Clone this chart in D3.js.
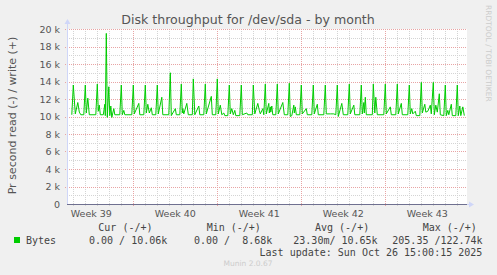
<!DOCTYPE html>
<meta charset="utf-8">
<script src="https://d3js.org/d3.v7.min.js"></script>
<style>
  body { margin: 0; background: #f0f0f0; }
  text { font-family: "DejaVu Sans", sans-serif; }
  .mono { font-family: "DejaVu Sans Mono", monospace; white-space: pre; }
</style>
<div id="chart"></div>
<script>

// hours after Mon 22 Sep 2025 00:00 (UTC) and the write rate in bytes/s at that moment
var hours = [35, 45, 48, 52, 57, 60, 63, 69, 72, 74, 77, 80, 93, 96, 98, 100, 102, 108, 111, 112,
  114, 116, 119, 121, 123, 125, 129, 131, 141, 144, 146, 149, 151, 165, 168, 170, 179, 181, 189, 192,
  194, 197, 200, 204, 206, 213, 216, 218, 225, 227, 239, 242, 244, 252, 254, 261, 264, 266, 267, 269,
  275, 278, 286, 288, 291, 299, 301, 309, 312, 314, 324, 326, 333, 336, 338, 342, 345, 349, 351, 357,
  360, 362, 365, 368, 371, 373, 381, 384, 386, 395, 397, 406, 408, 411, 417, 420, 422, 427, 429, 432,
  434, 439, 440, 442, 443, 445, 447, 453, 456, 458, 467, 470, 477, 480, 482, 485, 489, 490, 492, 494,
  501, 504, 506, 514, 516, 525, 528, 530, 536, 538, 549, 552, 554, 562, 569, 573, 576, 578, 585, 588,
  597, 600, 602, 609, 611, 621, 624, 626, 629, 630, 632, 634, 646, 648, 651, 653, 656, 669, 672, 674,
  682, 684, 693, 696, 698, 704, 706, 717, 720, 722, 725, 727, 732, 734, 741, 744, 746, 751, 753, 757,
  762, 764, 768, 770, 773, 776, 780, 782, 789, 792, 794, 797, 799, 804, 806, 813, 816, 818, 821, 823,
  827, 830, 836];
var writes = [10300, 10200, 13600, 10300, 11600, 10500, 10200, 10200, 13600, 10400, 12100, 10200, 10200, 13700, 10600, 11300, 10200, 10200, 11400, 10100,
  19500, 9900, 13400, 10100, 11200, 9900, 10900, 10200, 10200, 13600, 10200, 10700, 10200, 10200, 13600, 10300, 11500, 10200, 10200, 13600,
  10400, 11400, 10400, 11000, 10200, 10200, 13600, 10300, 12200, 10200, 10200, 15000, 10100, 10900, 10200, 10200, 13700, 10400, 10900, 10300,
  11500, 10200, 10200, 14300, 10200, 11200, 10200, 10200, 13700, 10300, 12300, 10200, 10200, 14300, 10300, 11300, 10200, 10400, 10100, 10100,
  13600, 10300, 10900, 10200, 10700, 10100, 10100, 13600, 10200, 10400, 10200, 10200, 13600, 10300, 11500, 10700, 10300, 10900, 10200, 13700,
  10300, 11500, 10400, 11100, 10500, 11200, 10200, 10200, 13700, 10300, 11600, 10200, 10200, 13800, 10000, 10100, 11300, 10400, 11100, 10200,
  10200, 13600, 10300, 10900, 10200, 10200, 13600, 10300, 11400, 10200, 10200, 13600, 10300, 10300, 10300, 10200, 13600, 10000, 11500, 10200,
  10200, 13700, 10300, 11300, 10200, 10200, 13600, 10300, 11600, 10400, 12200, 10200, 10200, 13700, 10400, 12200, 10200, 10200, 13700, 10300,
  11100, 10200, 10200, 13700, 10300, 11500, 10200, 10200, 13600, 10300, 10900, 10300, 10600, 10100, 10100, 13900, 10400, 11400, 10500, 10600,
  11300, 10300, 13900, 10200, 11300, 10500, 12600, 10200, 10100, 13600, 10100, 10700, 10200, 11400, 10100, 10100, 13600, 10100, 11200, 10100,
  11100, 10100, 10100];

var yTicks = [0, 2000, 4000, 6000, 8000, 10000, 12000, 14000, 16000, 18000, 20000];
var legendHeads = ["Cur (-/+)", "Min (-/+)", "Avg (-/+)", "Max (-/+)"];
var legendVals = ["0.00 / 10.06k", "0.00 /  8.68k", "23.30m/ 10.65k", "205.35 /122.74k"];
var lastUpdate = "Last update: Sun Oct 26 15:00:15 2025";

var W = 497, H = 275;
var pLeft = 67, pRight = 467, pTop = 29, pBottom = 204;

var t0 = Date.UTC(2025, 8, 22);
var data = hours.map(function(h, i) { return {t: new Date(t0 + h * 3600e3), v: writes[i]}; });

// munin month view: 400 px wide, window ends at the last update
var tEnd = new Date(Date.UTC(2025, 9, 26, 19, 24));
var tStart = new Date(+tEnd - 800 * 3600e3);

var x = d3.scaleUtc().domain([tStart, tEnd]).range([pLeft, pRight]);
var y = d3.scaleLinear().domain([0, 20000]).range([pBottom, pTop]);

var svg = d3.select("#chart").append("svg")
  .attr("width", W).attr("height", H);

svg.append("rect").attr("width", W).attr("height", H).attr("fill", "#f0f0f0");
svg.append("rect").attr("x", pLeft).attr("y", pTop)
  .attr("width", pRight - pLeft).attr("height", pBottom - pTop).attr("fill", "#fff");

// grid
var minorY = d3.range(1000, 20001, 2000);
svg.selectAll(".gy").data(minorY).enter().append("line")
  .attr("x1", pLeft).attr("x2", pRight)
  .attr("y1", function(d) { return Math.round(y(d)) + 0.5; }).attr("y2", function(d) { return Math.round(y(d)) + 0.5; })
  .attr("stroke", "#d4d4d4").attr("stroke-dasharray", "1,1");

var days = d3.utcDay.range(tStart, tEnd).filter(function(d) { return d.getUTCDay() !== 1; });
svg.selectAll(".gx").data(days).enter().append("line")
  .attr("x1", function(d) { return Math.round(x(d)) + 0.5; }).attr("x2", function(d) { return Math.round(x(d)) + 0.5; })
  .attr("y1", pTop).attr("y2", pBottom + 2)
  .attr("stroke", "#d4d4d4").attr("stroke-dasharray", "1,1");

svg.selectAll(".my").data(yTicks.slice(1)).enter().append("line")
  .attr("x1", pLeft - 2).attr("x2", pRight)
  .attr("y1", function(d) { return Math.round(y(d)) + 0.5; }).attr("y2", function(d) { return Math.round(y(d)) + 0.5; })
  .attr("stroke", "#e8a4a4").attr("stroke-dasharray", "1,1");

var mondays = d3.utcMonday.range(tStart, tEnd);
svg.selectAll(".mx").data(mondays).enter().append("line")
  .attr("x1", function(d) { return Math.round(x(d)) + 0.5; }).attr("x2", function(d) { return Math.round(x(d)) + 0.5; })
  .attr("y1", pTop).attr("y2", pBottom + 3)
  .attr("stroke", "#e8a4a4").attr("stroke-dasharray", "1,1");

// y labels
svg.selectAll(".yl").data(yTicks).enter().append("text")
  .attr("x", 60).attr("y", function(d) { return y(d) + 3.5; })
  .attr("text-anchor", "end").attr("font-size", 9.5).attr("fill", "#555")
  .text(function(d) { return d === 0 ? "0" : d / 1000 + " k"; });

// week labels, centred on the middle of each week
var weekMid = d3.utcMonday.range(d3.utcMonday.offset(tStart, -1), tEnd)
  .map(function(d) { return new Date(+d + 3.5 * 86400e3); })
  .filter(function(d) { return d > tStart && d < tEnd; });
svg.selectAll(".wl").data(weekMid).enter().append("text")
  .attr("x", function(d) { return x(d); }).attr("y", 216.5)
  .attr("text-anchor", "middle").attr("font-size", 9.5).attr("fill", "#555")
  .text(function(d) { return "Week " + d3.utcFormat("%V")(d); });

// axes
svg.append("line").attr("x1", pLeft + 0.5).attr("x2", pLeft + 0.5).attr("y1", pBottom).attr("y2", pTop - 6)
  .attr("stroke", "#cfd6f8");
svg.append("path").attr("d", "M" + (pLeft - 2.5) + "," + (pTop - 5) + "L" + (pLeft + 0.5) + "," + (pTop - 10) + "L" + (pLeft + 3.5) + "," + (pTop - 5) + "Z")
  .attr("fill", "#cfd6f8");
svg.append("line").attr("x1", pLeft).attr("x2", pRight + 3).attr("y1", pBottom + 0.5).attr("y2", pBottom + 0.5)
  .attr("stroke", "#cfd6f8");
svg.append("path").attr("d", "M" + (pRight + 2) + "," + (pBottom - 2.5) + "L" + (pRight + 7) + "," + (pBottom + 0.5) + "L" + (pRight + 2) + "," + (pBottom + 3.5) + "Z")
  .attr("fill", "#cfd6f8");

// read series is zero over the whole month
svg.append("line").attr("x1", pLeft).attr("x2", pRight).attr("y1", y(0) + 0.5).attr("y2", y(0) + 0.5)
  .attr("stroke", "#6f7090");

// write series
var line = d3.line().x(function(d) { return x(d.t); }).y(function(d) { return y(d.v); });
svg.append("path").datum(data.filter(function(d) { return d.t >= tStart && d.t <= tEnd; }))
  .attr("d", line).attr("fill", "none").attr("stroke", "#00cc00").attr("stroke-width", 1);

// titles
svg.append("text").attr("x", 248).attr("y", 23.5).attr("text-anchor", "middle")
  .attr("font-size", 12.6).attr("fill", "#555").text("Disk throughput for /dev/sda - by month");
svg.append("text").attr("transform", "translate(16,115.5) rotate(-90)").attr("text-anchor", "middle")
  .attr("font-size", 11).attr("fill", "#555").text("Pr second read (-) / write (+)");
svg.append("text").attr("transform", "translate(485.5,5) rotate(90)").attr("text-anchor", "start")
  .attr("font-size", 7.5).attr("fill", "#ccc").text("RRDTOOL / TOBI OETIKER");

// legend
var headX = [98.3, 206.7, 315, 422.7];
var valX = [89, 194, 293.3, 392.3];
svg.selectAll(".lh").data(legendHeads).enter().append("text").attr("class", "mono")
  .attr("x", function(d, i) { return headX[i]; }).attr("y", 230.5)
  .attr("font-size", 10).attr("fill", "#444").text(function(d) { return d; });
svg.append("rect").attr("x", 14).attr("y", 237).attr("width", 6).attr("height", 6).attr("fill", "#00cc00");
svg.append("text").attr("class", "mono").attr("x", 26).attr("y", 243.5)
  .attr("font-size", 10).attr("fill", "#444").text("Bytes");
svg.selectAll(".lv").data(legendVals).enter().append("text").attr("class", "mono")
  .attr("x", function(d, i) { return valX[i]; }).attr("y", 243.5)
  .attr("font-size", 10).attr("fill", "#444").text(function(d) { return d; });
svg.append("text").attr("class", "mono").attr("x", 482.3).attr("y", 255.5).attr("text-anchor", "end")
  .attr("font-size", 10).attr("fill", "#444").text(lastUpdate);
svg.append("text").attr("x", 248).attr("y", 266).attr("text-anchor", "middle")
  .attr("font-size", 7.5).attr("fill", "#ccc").text("Munin 2.0.67");

</script>
